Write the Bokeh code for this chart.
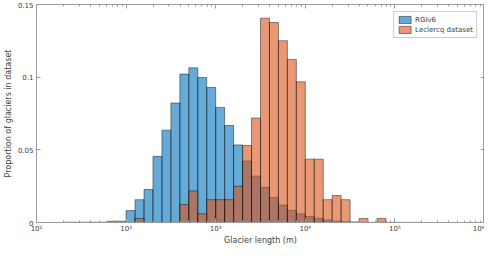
from bokeh.plotting import figure
from bokeh.models import (FixedTicker, LinearAxis, LogAxis, Legend, LegendItem, Range1d)
from bokeh.embed import file_html
from bokeh.resources import INLINE

# bin left edges as log10 exponents (bin width 0.1 decade)
rgi_bin_exp = [1.3, 1.4, 1.5, 1.6, 1.7, 1.8, 1.9, 2.0, 2.1, 2.2, 2.3, 2.4, 2.5, 2.6, 2.7,
               2.8, 2.9, 3.0, 3.1, 3.2, 3.3, 3.4, 3.5, 3.6, 3.7, 3.8, 3.9, 4.0, 4.1, 4.2,
               4.3, 4.4, 4.5, 4.6, 4.7, 4.8, 4.9, 5.0, 5.1, 5.2]
rgi_vals = [0.0002, 0.0002, 0.0002, 0.0002, 0.0002, 0.0009, 0.0009, 0.0082, 0.0157, 0.0227,
            0.0455, 0.0635, 0.0822, 0.1021, 0.1064, 0.0998, 0.0929, 0.0792, 0.0667, 0.0534,
            0.0423, 0.0320, 0.0242, 0.0172, 0.0120, 0.0084, 0.0060, 0.0041, 0.0030, 0.0017,
            0.0009, 0.0005, 0.0004, 0.0002, 0.0001, 0.0001, 0.0001, 0.0001, 0.0001, 0.0001]

lec_bin_exp = [2.1, 2.2, 2.3, 2.4, 2.5, 2.6, 2.7, 2.8, 2.9, 3.0, 3.1, 3.2, 3.3, 3.4, 3.5,
               3.6, 3.7, 3.8, 3.9, 4.0, 4.1, 4.2, 4.3, 4.4, 4.5, 4.6, 4.7, 4.8]
lec_vals = [0.0028, 0.0, 0.0, 0.0, 0.0, 0.0124, 0.0217, 0.0060, 0.0157, 0.0157, 0.0157,
            0.0249, 0.0530, 0.0719, 0.1406, 0.1376, 0.1251, 0.1122, 0.0968, 0.0436, 0.0436,
            0.0157, 0.0185, 0.0157, 0.0, 0.0028, 0.0, 0.0028]
bin_width_exp = 0.1

x_ticks = [1e1, 1e2, 1e3, 1e4, 1e5, 1e6]
x_tick_labels = ["10¹", "10²", "10³", "10⁴", "10⁵", "10⁶"]
y_ticks = [0, 0.05, 0.1, 0.15]
y_tick_labels = ["0", "0.05", "0.1", "0.15"]
series_names = ["RGIv6", "Leclercq dataset"]

FONT = "DejaVu Sans"
TXT = "#404040"
AX = "#9a9a9a"

p = figure(width=484, height=247, x_axis_type="log", output_backend="svg",
           toolbar_location=None, x_range=Range1d(1e1, 1e6), y_range=Range1d(0, 0.15),
           min_border_left=0, min_border_right=0, min_border_top=4, min_border_bottom=0)
p.xgrid.visible = False
p.ygrid.visible = False
p.outline_line_color = AX
p.background_fill_color = "white"

def quads(exps, vals, color):
    left = [10 ** e for e in exps]
    right = [10 ** (e + bin_width_exp) for e in exps]
    return p.quad(left=left, right=right, bottom=0, top=vals, fill_color=color, fill_alpha=0.6,
                  line_color="black", line_alpha=0.55, line_width=0.8)

r1 = quads(rgi_bin_exp, rgi_vals, "#0072BD")
r2 = quads(lec_bin_exp, lec_vals, "#D95319")

minor = []
for d in range(1, 6):
    for m in range(2, 10):
        minor.append(m * 10 ** d)

def style(ax):
    ax.axis_line_color = AX
    ax.major_tick_line_color = AX
    ax.minor_tick_line_color = AX
    ax.major_tick_in = 4
    ax.major_tick_out = 0
    ax.minor_tick_in = 2
    ax.minor_tick_out = 0
    ax.major_label_text_font = FONT
    ax.major_label_text_font_size = "7px"
    ax.major_label_text_color = TXT
    ax.axis_label_text_font = FONT
    ax.axis_label_text_font_size = "8px"
    ax.axis_label_text_font_style = "normal"
    ax.axis_label_text_color = TXT
    ax.major_label_standoff = 2
    ax.axis_label_standoff = 2

xa = p.xaxis[0]
xa.ticker = FixedTicker(ticks=x_ticks, minor_ticks=minor)
xa.major_label_overrides = {t: l for t, l in zip(x_ticks, x_tick_labels)}
xa.axis_label = "Glacier length (m)"
style(xa)
xa.major_label_standoff = 2
xa.axis_label_standoff = 0

ya = p.yaxis[0]
ya.ticker = FixedTicker(ticks=y_ticks, minor_ticks=[])
ya.major_label_overrides = {t: l for t, l in zip(y_ticks, y_tick_labels)}
ya.axis_label = "Proportion of glaciers in dataset"
style(ya)
ya.major_label_standoff = 3
ya.axis_label_standoff = 2

ra = LinearAxis(ticker=FixedTicker(ticks=y_ticks, minor_ticks=[]))
style(ra)
ra.major_label_overrides = {t: "" for t in y_ticks}
ra.major_label_standoff = 0
p.add_layout(ra, "right")
ta = LogAxis(ticker=FixedTicker(ticks=x_ticks, minor_ticks=minor))
style(ta)
ta.major_label_overrides = {t: "" for t in x_ticks}
ta.major_label_standoff = 0
p.add_layout(ta, "above")

legend = Legend(items=[LegendItem(label=series_names[0], renderers=[r1]),
                       LegendItem(label=series_names[1], renderers=[r2])],
                location="top_right")
legend.label_text_font = FONT
legend.label_text_font_size = "7px"
legend.label_text_color = TXT
legend.glyph_width = 15
legend.glyph_height = 9
legend.label_height = 9
legend.spacing = 1
legend.padding = 3
legend.margin = 7
legend.label_standoff = 3
legend.border_line_color = AX
legend.background_fill_alpha = 1
p.add_layout(legend)

open("out.html", "w").write(file_html(p, INLINE))
